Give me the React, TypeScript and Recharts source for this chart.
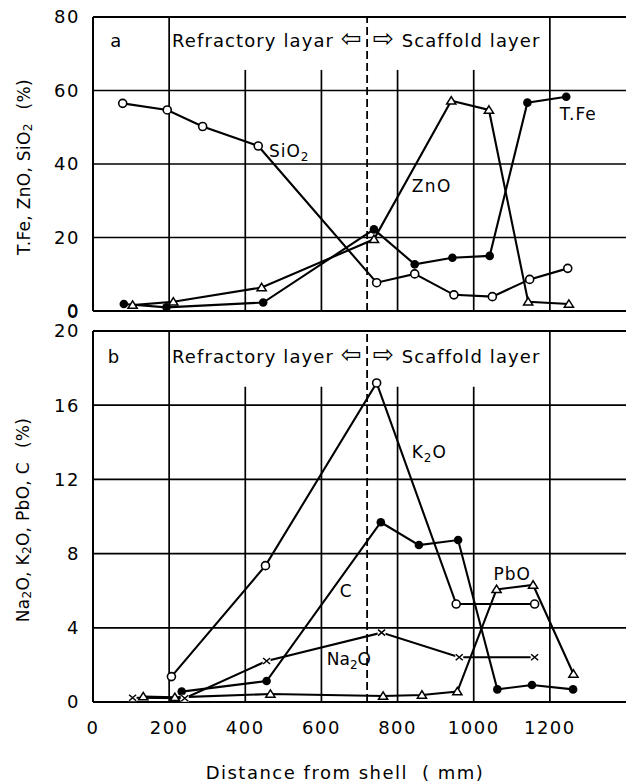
import React from 'react';
import {
  LineChart,
  Line,
  XAxis,
  YAxis,
  CartesianGrid,
  ReferenceLine,
  ReferenceDot,
  Label,
} from 'recharts';

// ---------- Panel a : T.Fe, ZnO, SiO2 (%) vs distance from shell (mm) ----------
const sio2X = [78, 195, 288, 434, 745, 845, 948, 1049, 1147, 1247];
const sio2Y = [56.5, 54.7, 50.2, 44.9, 7.7, 10.1, 4.4, 3.9, 8.6, 11.6];
const tfeX = [81, 193, 447, 738, 845, 944, 1042, 1141, 1243];
const tfeY = [1.9, 1.0, 2.3, 22.2, 12.7, 14.5, 15.0, 56.7, 58.3];
const znoX = [104, 211, 443, 738, 941, 1040, 1143, 1250];
const znoY = [1.6, 2.5, 6.4, 19.5, 57.2, 54.7, 2.5, 1.9];

// ---------- Panel b : Na2O, K2O, PbO, C (%) ----------
const k2oX = [206, 453, 745, 954, 1160];
const k2oY = [1.37, 7.35, 17.2, 5.28, 5.28];
const cX = [233, 456, 756, 856, 959, 1062, 1153, 1261];
const cY = [0.56, 1.13, 9.69, 8.46, 8.73, 0.68, 0.92, 0.68];
const na2oX = [104, 241, 456, 758, 962, 1160];
const na2oY = [0.23, 0.2, 2.21, 3.74, 2.41, 2.41];
const pboX = [132, 215, 466, 762, 864, 957, 1060, 1156, 1262];
const pboY = [0.29, 0.25, 0.43, 0.32, 0.38, 0.56, 6.07, 6.31, 1.51];

// ---------- Axes ----------
const xDomain = [0, 1400];
const xTicks = [0, 200, 400, 600, 800, 1000, 1200];
const topYTicks = [0, 20, 40, 60, 80];
const bottomYTicks = [0, 4, 8, 12, 16, 20];
const fullGridX = [200, 1200];
const partGridX = [400, 600, 800, 1000];
const layerBoundary = 720;
const topGridStart = 65.6;
const bottomGridStart = 17;

const toPts = (xs: number[], ys: number[]) => xs.map((x, i) => ({ x, y: ys[i] }));

const FONT = 'DejaVu Sans';
const textStyle = { fontFamily: FONT, fill: '#000' } as const;

const OpenCircle = (p: any) =>
  p.cx == null ? null : (
    <circle key={p.index} cx={p.cx} cy={p.cy} r={4} fill="#fff" stroke="#000" strokeWidth={1.6} />
  );
const FilledCircle = (p: any) =>
  p.cx == null ? null : <circle key={p.index} cx={p.cx} cy={p.cy} r={4.3} fill="#000" />;
const Triangle = (p: any) =>
  p.cx == null ? null : (
    <path
      key={p.index}
      d={`M${p.cx},${p.cy - 4.2} L${p.cx + 4.6},${p.cy + 3.2} L${p.cx - 4.6},${p.cy + 3.2} Z`}
      fill="#fff"
      stroke="#000"
      strokeWidth={1.5}
    />
  );
const Cross = (p: any) =>
  p.cx == null ? null : (
    <g key={p.index}>
      <rect x={p.cx - 4} y={p.cy - 3.5} width={8} height={7} fill="#fff" />
      <path
        d={`M${p.cx - 3.5},${p.cy - 3} L${p.cx + 3.5},${p.cy + 3} M${p.cx - 3.5},${p.cy + 3} L${p.cx + 3.5},${p.cy - 3}`}
        stroke="#000"
        strokeWidth={1.5}
      />
    </g>
  );

const annot = (key: string, x: number, y: number, content: React.ReactNode, opts: any = {}) => (
  <ReferenceDot
    key={key}
    x={x}
    y={y}
    r={0}
    isFront
    ifOverflow="visible"
    shape={(p: any) => (
      <text
        x={p.cx + (opts.dx || 0)}
        y={p.cy}
        textAnchor={opts.anchor || 'start'}
        dominantBaseline={opts.baseline || 'auto'}
        fontSize={opts.fontSize || 17}
        letterSpacing={opts.ls ?? 1}
        {...textStyle}
      >
        {content}
      </text>
    )}
  />
);

const sub = (d: string) => [
  <tspan key="s" dy={4} fontSize={12}>
    {d}
  </tspan>,
];

const arrow = (ch: string, k: string) => (
  <tspan key={k} fontSize={25}>
    {ch}
  </tspan>
);

const grid = (top: number, prefix: string) => [
  ...fullGridX.map((x) => (
    <ReferenceLine key={prefix + 'f' + x} x={x} stroke="#000" strokeWidth={1.7} />
  )),
  ...partGridX.map((x) => (
    <ReferenceLine
      key={prefix + 'p' + x}
      segment={[
        { x, y: top },
        { x, y: 0 },
      ]}
      stroke="#000"
      strokeWidth={1.7}
    />
  )),
  <ReferenceLine
    key={prefix + 'dash'}
    x={layerBoundary}
    stroke="#000"
    strokeWidth={1.8}
    strokeDasharray="8 4"
  />,
];

const lineProps = {
  type: 'linear' as const,
  dataKey: 'y',
  stroke: '#000',
  strokeWidth: 2.1,
  isAnimationActive: false,
  activeDot: false,
};

const yTick = { ...textStyle, fontSize: 18, letterSpacing: 1.5 };

export default function App() {
  return (
    <div
      style={{
        position: 'absolute',
        left: 0,
        top: 0,
        width: 626,
        height: 783,
        background: '#fff',
        overflow: 'hidden',
      }}
    >
      {/* Panel b */}
      <div style={{ position: 'absolute', left: 0, top: 0 }}>
        <LineChart width={626} height={783} margin={{ top: 331, right: 0, bottom: 0, left: 0 }}>
          <CartesianGrid vertical={false} stroke="#000" strokeWidth={1.7} />
          <XAxis
            type="number"
            dataKey="x"
            domain={xDomain}
            ticks={xTicks}
            height={81}
            tickLine={false}
            tickSize={0}
            tickMargin={19}
            axisLine={{ stroke: '#000', strokeWidth: 2 }}
            tick={yTick}
            interval={0}
            allowDataOverflow
          >
            <Label
              content={() => (
                <text x={345} y={779} textAnchor="middle" fontSize={18} letterSpacing={1.5} {...textStyle}>
                  Distance from shell
                  <tspan dx={14}>( mm)</tspan>
                </text>
              )}
            />
          </XAxis>
          <YAxis
            type="number"
            domain={[0, 20]}
            ticks={bottomYTicks}
            width={93}
            tickLine={false}
            tickSize={0}
            tickMargin={13}
            axisLine={{ stroke: '#000', strokeWidth: 2 }}
            tick={yTick}
            interval={0}
            allowDataOverflow
          >
            <Label
              content={() => (
                <text
                  x={23}
                  y={520}
                  transform="rotate(-90, 23, 520)"
                  textAnchor="middle"
                  dominantBaseline="central"
                  fontSize={17}
                  letterSpacing={0.3}
                  {...textStyle}
                >
                  Na
                  <tspan dy={4} fontSize={12}>2</tspan>
                  <tspan dy={-4}>O, K</tspan>
                  <tspan dy={4} fontSize={12}>2</tspan>
                  <tspan dy={-4}>O, PbO, C</tspan>
                  <tspan dx={14}>(%)</tspan>
                </text>
              )}
            />
          </YAxis>
          {grid(bottomGridStart, 'b')}
          <ReferenceLine y={20} stroke="#000" strokeWidth={2} />
          <Line {...lineProps} data={toPts(k2oX, k2oY)} dot={OpenCircle} />
          <Line {...lineProps} data={toPts(cX, cY)} dot={FilledCircle} />
          <Line {...lineProps} data={toPts(na2oX, na2oY)} dot={Cross} />
          <Line {...lineProps} data={toPts(pboX, pboY)} dot={Triangle} />
          {annot('tb', 39, 18.27, 'b', { fontSize: 18 })}
          {annot('bl', 709, 18.27, ['Refractory layer ', arrow('\u21E6', 'l')], { anchor: 'end', fontSize: 18, ls: 1.1 })}
          {annot('br', 735, 18.27, [arrow('\u21E8', 'r'), ' Scaffold layer'], { fontSize: 18, ls: 1.1 })}
          {annot('k2o', 837, 13.15, ['K', ...sub('2'), <tspan key="o" dy={-4}>O</tspan>])}
          {annot('c', 648, 5.66, 'C')}
          {annot('na2o', 614, 2.0, ['Na', ...sub('2'), <tspan key="o" dy={-4}>O</tspan>], { ls: 0 })}
          {annot('pbo', 1052, 6.58, 'PbO')}
        </LineChart>
      </div>

      {/* Panel a */}
      <div style={{ position: 'absolute', left: 0, top: 0 }}>
        <LineChart width={626} height={330} margin={{ top: 17, right: 0, bottom: 19, left: 0 }}>
          <CartesianGrid vertical={false} stroke="#000" strokeWidth={1.7} />
          <XAxis type="number" dataKey="x" domain={xDomain} ticks={xTicks} hide allowDataOverflow />
          <YAxis
            type="number"
            domain={[0, 80]}
            ticks={topYTicks}
            width={93}
            tickLine={false}
            tickSize={0}
            tickMargin={13}
            axisLine={{ stroke: '#000', strokeWidth: 2 }}
            tick={yTick}
            interval={0}
            allowDataOverflow
          >
            <Label
              content={() => (
                <text
                  x={24}
                  y={167}
                  transform="rotate(-90, 24, 167)"
                  textAnchor="middle"
                  dominantBaseline="central"
                  fontSize={17}
                  letterSpacing={0.3}
                  {...textStyle}
                >
                  T.Fe, ZnO, SiO
                  <tspan dy={4} fontSize={12}>2</tspan>
                  <tspan dy={-4} dx={14}>(%)</tspan>
                </text>
              )}
            />
          </YAxis>
          {grid(topGridStart, 'a')}
          <ReferenceLine y={80} stroke="#000" strokeWidth={2} />
          <ReferenceLine y={0} stroke="#000" strokeWidth={2} />
          <Line {...lineProps} data={toPts(sio2X, sio2Y)} dot={OpenCircle} />
          <Line {...lineProps} data={toPts(tfeX, tfeY)} dot={FilledCircle} />
          <Line {...lineProps} data={toPts(znoX, znoY)} dot={Triangle} />
          {annot('y0', 0, 0, '0', { anchor: 'end', dx: -13, baseline: 'central', fontSize: 18, ls: 1.5 })}
          {annot('ta', 45, 71.8, 'a', { fontSize: 18 })}
          {annot('tl', 709, 71.8, ['Refractory layar ', arrow('\u21E6', 'l')], { anchor: 'end', fontSize: 18, ls: 1.1 })}
          {annot('tr', 735, 71.8, [arrow('\u21E8', 'r'), ' Scaffold layer'], { fontSize: 18, ls: 1.1 })}
          {annot('sio2', 462, 41.9, ['SiO', ...sub('2')])}
          {annot('zno', 837, 32.4, 'ZnO', { ls: 1.5 })}
          {annot('tfe', 1226, 52, 'T.Fe')}
        </LineChart>
      </div>
    </div>
  );
}
